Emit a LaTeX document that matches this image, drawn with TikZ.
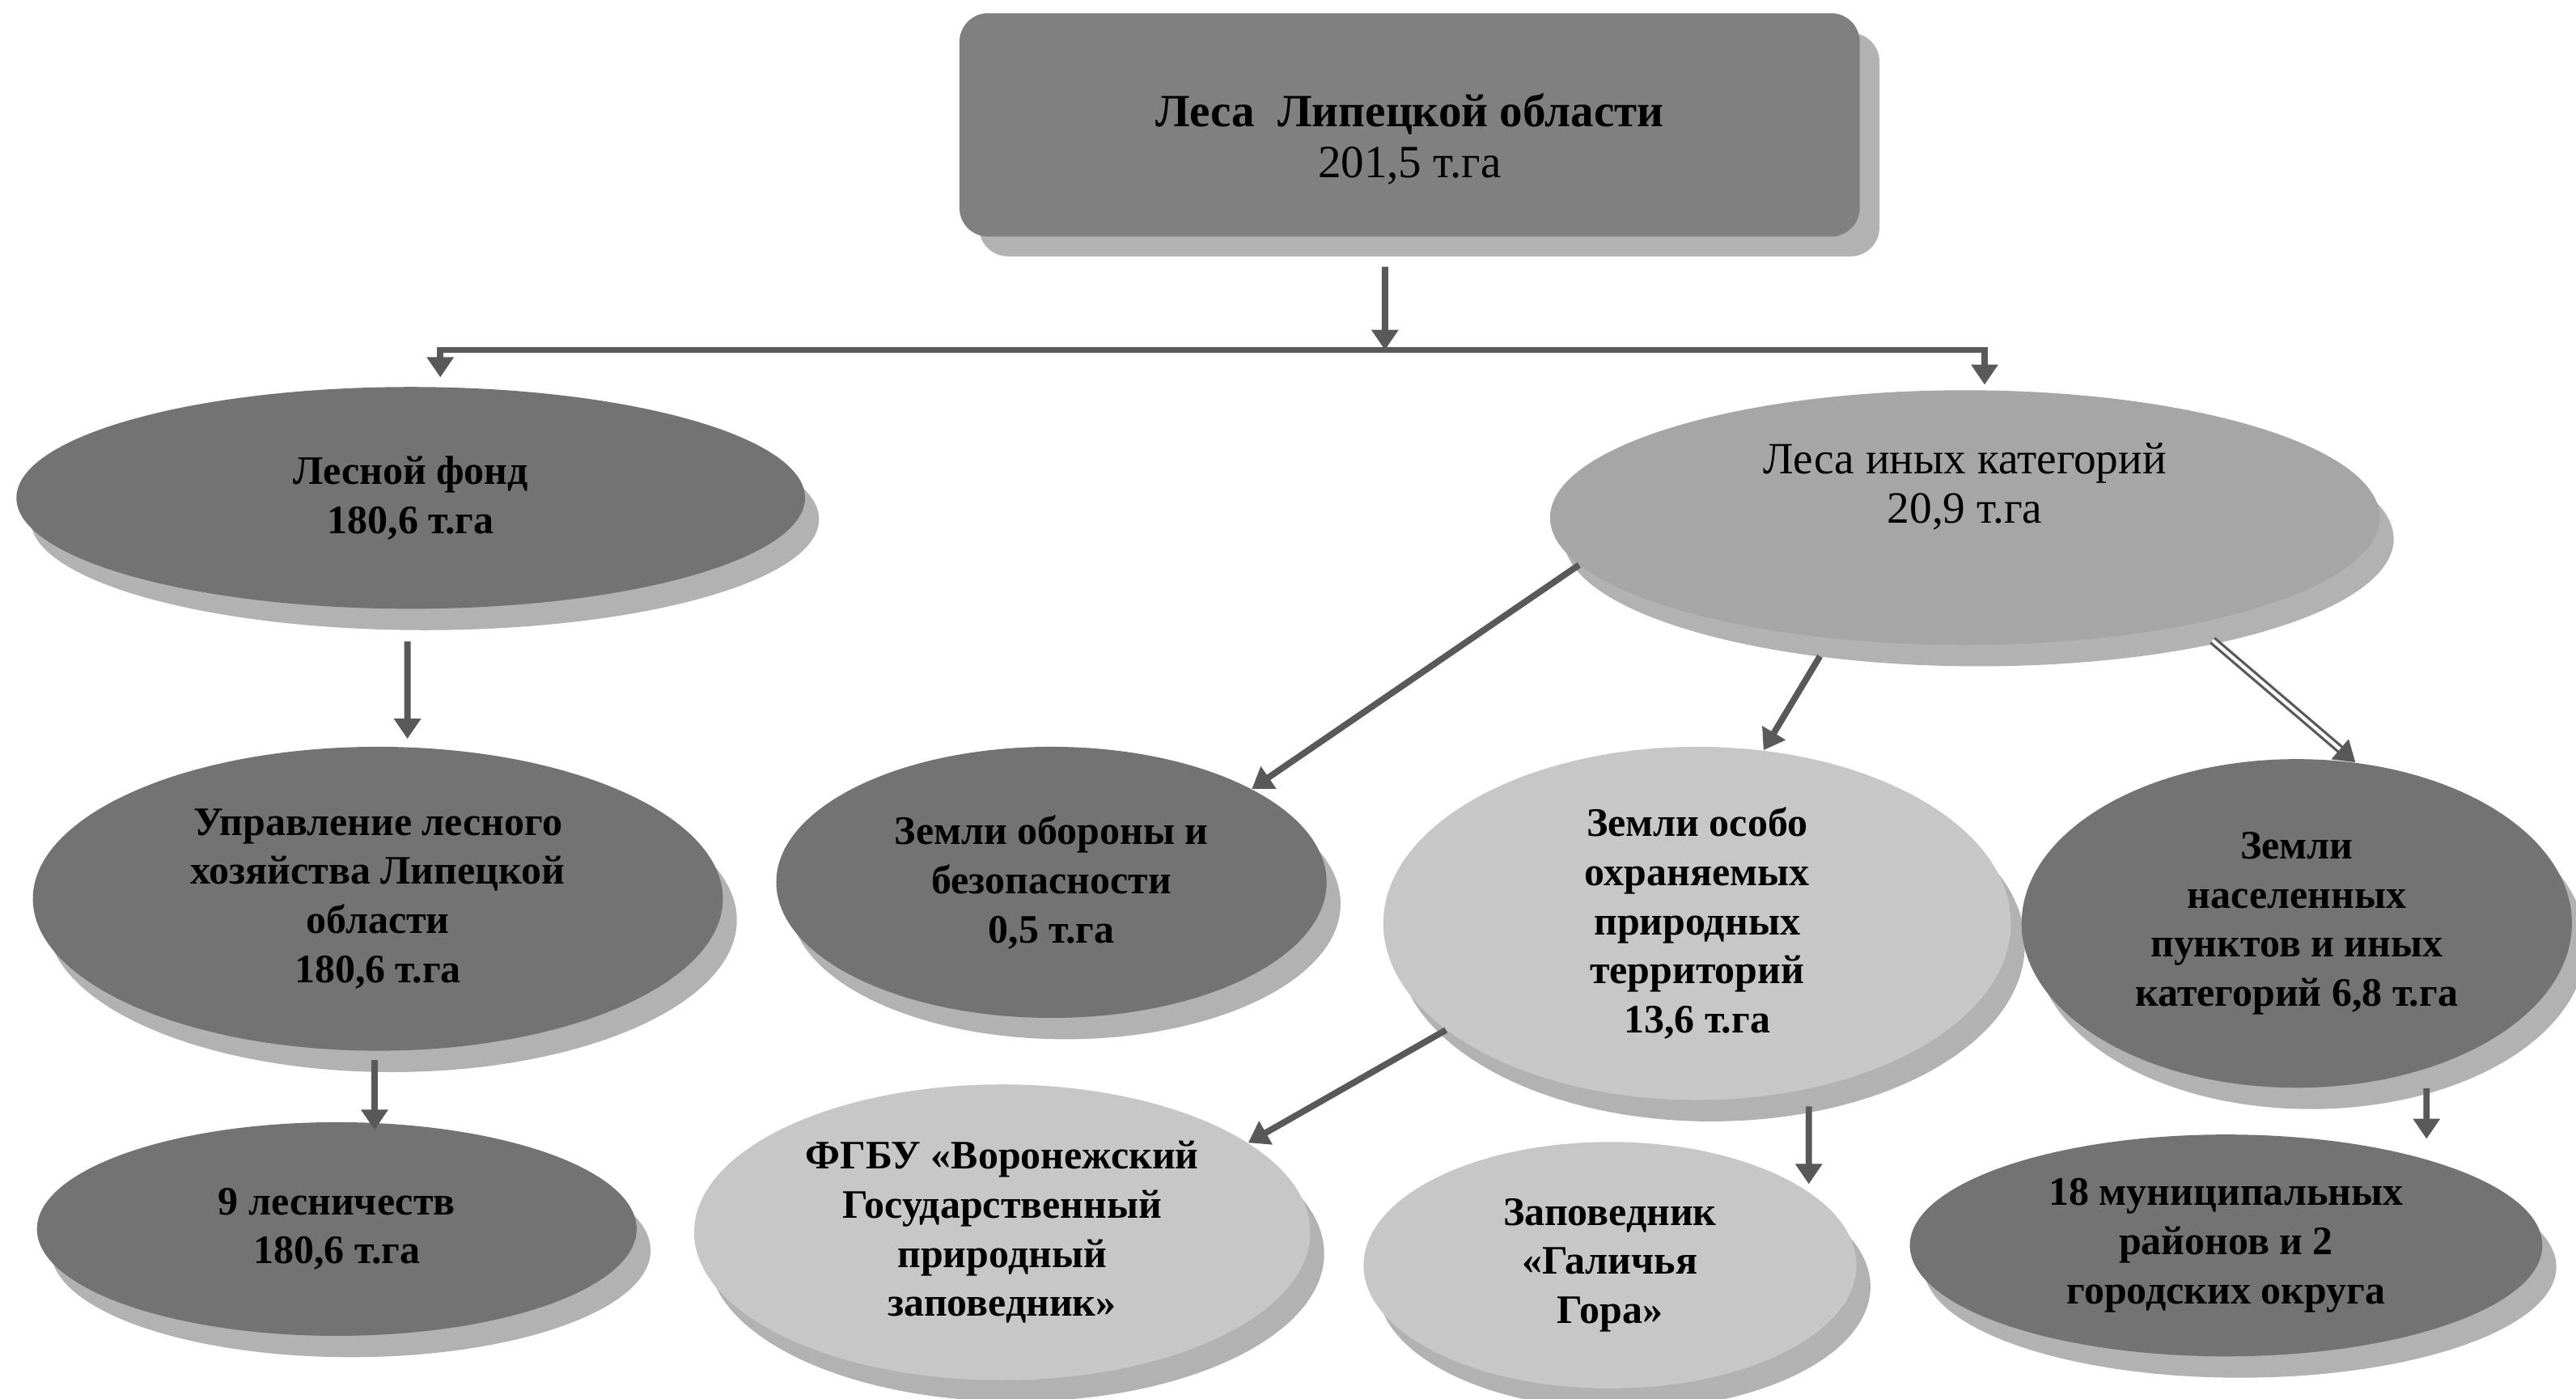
\documentclass[tikz,border=0pt]{standalone}
\usepackage{fontspec}
\setmainfont{Liberation Serif}
\usepackage{tikz}
\usetikzlibrary{shapes.geometric, shadows, arrows.meta}

% struts that move a node's text off the centre
\newcommand{\liftup}[1]{\rule[-#1]{0pt}{0pt}}
\newcommand{\pushdown}[1]{\rule{0pt}{#1}}

\begin{document}
\begin{tikzpicture}[
  every node/.style={align=center, inner sep=0pt, font=\bfseries\fontsize{14}{17}\selectfont},
  backshadow/.style={drop shadow={shadow xshift=0.17cm, shadow yshift=-0.26cm, opacity=1, fill=black!30}},
  topbox/.style={rectangle, rounded corners=0.35cm, fill=black!50,
    drop shadow={shadow xshift=0.24cm, shadow yshift=-0.24cm, opacity=1, fill=black!30}},
  darkoval/.style={ellipse, fill=black!55, backshadow},
  midoval/.style={ellipse, fill=black!35, backshadow},
  lightoval/.style={ellipse, fill=black!22, backshadow},
  link/.style={draw=black!65, line width=2.2pt, -{Triangle[width=9pt,length=7pt]}},
  hollowlink/.style={link, double=white, double distance=1.2pt, line width=0.9pt}
]
\useasboundingbox (0,0) rectangle (31.36,-17.02);

\node[topbox, minimum width=10.96cm, minimum height=2.72cm,
  font=\bfseries\fontsize{16}{17.6}\selectfont] (top) at (17.16,-1.52)
  {\pushdown{0.75cm}Леса\ \ Липецкой области\\{\mdseries 201,5 т.га}};

\node[darkoval, minimum width=9.6cm, minimum height=2.7cm] (lf) at (5.0,-6.06)
  {Лесной фонд\\180,6 т.га};
\node[midoval, minimum width=10.1cm, minimum height=3.1cm,
  font=\fontsize{15.5}{17}\selectfont] (li) at (23.92,-6.3)
  {Леса иных категорий\\20,9 т.га\liftup{0.84cm}};

\node[darkoval, minimum width=8.4cm, minimum height=3.7cm] (ul) at (4.6,-10.94)
  {Управление лесного\\хозяйства Липецкой\\области\\180,6 т.га};
\node[darkoval, minimum width=7.3cm, minimum height=2.6cm] (ls) at (4.1,-14.96)
  {9 лесничеств\\180,6 т.га};

\node[darkoval, minimum width=6.7cm, minimum height=3.3cm] (zo) at (12.8,-10.74)
  {Земли обороны и\\безопасности\\0,5 т.га};
\node[lightoval, minimum width=7.64cm, minimum height=4.3cm] (zp) at (20.66,-11.24)
  {Земли особо\\охраняемых\\природных\\территорий\\13,6 т.га};
\node[darkoval, minimum width=6.7cm, minimum height=4.0cm] (zn) at (27.96,-11.24)
  {Земли\\населенных\\пунктов и иных\\категорий 6,8 т.га};

\node[lightoval, minimum width=7.5cm, minimum height=3.6cm] (fg) at (12.2,-15.0)
  {ФГБУ «Воронежский\\Государственный\\природный\\заповедник»};
\node[lightoval, minimum width=6.0cm, minimum height=3.0cm] (gg) at (19.6,-15.4)
  {Заповедник\\«Галичья\\Гора»};
\node[darkoval, minimum width=7.7cm, minimum height=2.7cm] (mr) at (27.1,-15.16)
  {18 муниципальных\\районов и 2\\городских округа};

% connectors
\coordinate (hub) at (16.86,-4.26);
\draw[link] ([xshift=-3mm, yshift=-3.6mm]top.south) -- (hub);
\draw[link, {Triangle[width=9pt,length=7pt]}-{Triangle[width=9pt,length=7pt]}]
  ([xshift=3.6mm, yshift=1.1mm]lf.north) |- (hub) -| ([xshift=2.4mm, yshift=0.6mm]li.north);

\draw[link] ([xshift=-0.4mm, yshift=-3.9mm]lf.south) -- ([xshift=3.6mm, yshift=0.9mm]ul.north);
\draw[link] ([xshift=-0.4mm, yshift=-1.1mm]ul.south) -- ([xshift=4.6mm, yshift=-1mm]ls.north);

\draw[link] (li.187) -- (zo.25);
\draw[link, shorten <=2.5mm] (li.222) -- (zp.69);
\draw[hollowlink, shorten <=3mm] (li.335) -- (zn.70);

\draw[link] (zp.203) -- (fg.20);
\draw[link] ([xshift=13.6mm, yshift=-0.7mm]zp.south) -- ([xshift=24.2mm, yshift=-5.2mm]gg.north);
\draw[link] ([xshift=15.8mm]zn.south) -- ([xshift=24.4mm, yshift=-0.6mm]mr.north);
\end{tikzpicture}
\end{document}
